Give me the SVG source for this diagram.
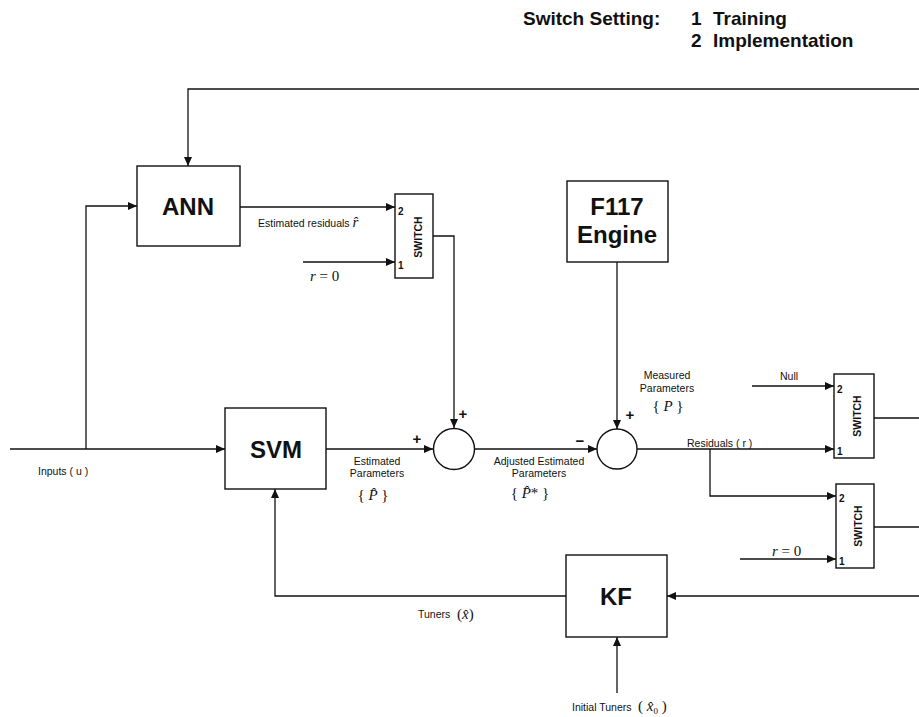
<svg xmlns="http://www.w3.org/2000/svg" width="919" height="717" viewBox="0 0 919 717">
<style>
.box{fill:#fff;stroke:#111;stroke-width:1.4}
.sum{fill:#fff;stroke:#111;stroke-width:1.4}
.ln{fill:none;stroke:#111;stroke-width:1.3}
.big{font-family:"Liberation Sans",Arial,sans-serif;font-weight:bold;font-size:24px;fill:#111;text-anchor:middle}
.hdr{font-family:"Liberation Sans",Arial,sans-serif;font-weight:bold;font-size:19px;fill:#111}
.lbl{font-family:"Liberation Sans",Arial,sans-serif;font-size:10.5px;fill:#111}
.sw{font-family:"Liberation Sans",Arial,sans-serif;font-weight:bold;font-size:10.5px;fill:#111;text-anchor:middle}
.pn{font-family:"Liberation Sans",Arial,sans-serif;font-weight:bold;font-size:10px;fill:#111}
.sg{font-family:"Liberation Sans",Arial,sans-serif;font-weight:bold;font-size:15px;fill:#111;text-anchor:middle}
.m{font-family:"Liberation Serif","Times New Roman",serif;font-style:italic;font-size:15px;fill:#111}
.mb{font-family:"Liberation Serif","Times New Roman",serif;font-style:normal;font-size:15px;fill:#111}
</style>
<defs>
<marker id="arr" markerUnits="userSpaceOnUse" markerWidth="9" markerHeight="8" refX="9" refY="4" orient="auto">
<path d="M0,0 L9,4 L0,8 Z" fill="#111"/>
</marker>
</defs>

<g id="header">
<text class="hdr" x="523" y="25">Switch Setting:</text>
<text class="hdr" x="691" y="25">1</text>
<text class="hdr" x="713" y="25">Training</text>
<text class="hdr" x="691" y="47">2</text>
<text class="hdr" x="713" y="47">Implementation</text>
</g>

<g id="connectors">
<path class="ln" d="M919,89 H188 V166" marker-end="url(#arr)"/>
<path class="ln" d="M86,449 V206 H137" marker-end="url(#arr)"/>
<path class="ln" d="M10,449 H225" marker-end="url(#arr)"/>
<path class="ln" d="M240,207 H395" marker-end="url(#arr)"/>
<path class="ln" d="M303,262 H395" marker-end="url(#arr)"/>
<path class="ln" d="M433,236 H454 V428" marker-end="url(#arr)"/>
<path class="ln" d="M326,449 H433" marker-end="url(#arr)"/>
<path class="ln" d="M474,449 H597" marker-end="url(#arr)"/>
<path class="ln" d="M617,262 V429" marker-end="url(#arr)"/>
<path class="ln" d="M637,449 H834" marker-end="url(#arr)"/>
<path class="ln" d="M710,449 V496 H836" marker-end="url(#arr)"/>
<path class="ln" d="M752,386 H834" marker-end="url(#arr)"/>
<path class="ln" d="M740,559 H836" marker-end="url(#arr)"/>
<path class="ln" d="M874,418 H919"/>
<path class="ln" d="M874,527 H919"/>
<path class="ln" d="M919,596 H667" marker-end="url(#arr)"/>
<path class="ln" d="M566,596 H275 V489" marker-end="url(#arr)"/>
<path class="ln" d="M617,693 V637" marker-end="url(#arr)"/>
</g>

<g id="ANN">
<rect class="box" x="137" y="166" width="103" height="80"/>
<text class="big" x="188" y="215">ANN</text>
</g>

<g id="SVM">
<rect class="box" x="225" y="408" width="101" height="81"/>
<text class="big" x="276" y="458">SVM</text>
</g>

<g id="F117">
<rect class="box" x="567" y="181" width="101" height="81"/>
<text class="big" x="617" y="215">F117</text>
<text class="big" x="617" y="243">Engine</text>
</g>

<g id="KF">
<rect class="box" x="566" y="555" width="101" height="82"/>
<text class="big" x="616" y="605">KF</text>
</g>

<g id="switch1">
<rect class="box" x="395" y="194" width="38" height="84"/>
<text class="pn" x="398" y="215">2</text>
<text class="pn" x="398" y="269">1</text>
<text class="sw" transform="translate(422,237) rotate(-90)">SWITCH</text>
</g>

<g id="switch2">
<rect class="box" x="834" y="374" width="40" height="84"/>
<text class="pn" x="837" y="393">2</text>
<text class="pn" x="837" y="455">1</text>
<text class="sw" transform="translate(861,416) rotate(-90)">SWITCH</text>
</g>

<g id="switch3">
<rect class="box" x="836" y="484" width="38" height="84"/>
<text class="pn" x="839" y="502">2</text>
<text class="pn" x="839" y="565">1</text>
<text class="sw" transform="translate(862,526) rotate(-90)">SWITCH</text>
</g>

<g id="sum1">
<circle class="sum" cx="454" cy="449" r="20.5"/>
<text class="sg" x="417" y="444">+</text>
<text class="sg" x="463" y="419">+</text>
</g>

<g id="sum2">
<circle class="sum" cx="617" cy="449" r="20"/>
<text class="sg" x="580" y="446">−</text>
<text class="sg" x="630" y="420">+</text>
</g>

<g id="labels">
<text class="lbl" x="258" y="227">Estimated residuals <tspan class="m">r̂</tspan></text>
<text class="m" x="310" y="281">r <tspan class="mb">= 0</tspan></text>
<text class="lbl" x="38" y="475">Inputs ( u )</text>
<text class="lbl" x="377" y="465" text-anchor="middle">Estimated</text>
<text class="lbl" x="377" y="477" text-anchor="middle">Parameters</text>
<text class="mb" x="373" y="500" text-anchor="middle">{ <tspan class="m">P̂</tspan> }</text>
<text class="lbl" x="539" y="465" text-anchor="middle">Adjusted Estimated</text>
<text class="lbl" x="539" y="477" text-anchor="middle">Parameters</text>
<text class="mb" x="530" y="498" text-anchor="middle">{ <tspan class="m">P̂</tspan>* }</text>
<text class="lbl" x="667" y="379" text-anchor="middle">Measured</text>
<text class="lbl" x="667" y="392" text-anchor="middle">Parameters</text>
<text class="mb" x="668" y="411" text-anchor="middle">{ <tspan class="m">P</tspan> }</text>
<text class="lbl" x="687" y="447">Residuals ( r )</text>
<text class="lbl" x="780" y="380">Null</text>
<text class="m" x="772" y="556">r <tspan class="mb">= 0</tspan></text>
<text class="lbl" x="418" y="618">Tuners</text>
<text class="mb" x="457" y="619" font-size="16">(<tspan class="m" font-size="16">x̂</tspan>)</text>
<text class="lbl" x="572" y="711">Initial Tuners</text>
<text class="mb" x="638" y="711" font-size="14">( <tspan class="m" font-size="14">x̂</tspan><tspan font-size="9" dy="3">0</tspan><tspan dy="-3"> )</tspan></text>
</g>
</svg>
